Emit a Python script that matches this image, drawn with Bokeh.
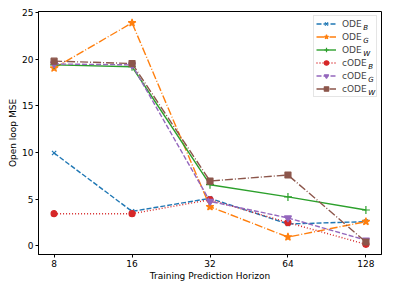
from bokeh.plotting import figure
from bokeh.models import Range1d, FixedTicker, Legend, LegendItem, Label
from bokeh.embed import file_html
from bokeh.resources import INLINE

horizons = [8, 16, 32, 64, 128]
tick_labels = ["8", "16", "32", "64", "128"]
ode_b = [9.95, 3.7, 5.1, 2.35, 2.6]
ode_g = [19.05, 23.9, 4.2, 0.95, 2.6]
ode_w = [19.4, 19.2, 6.56, 5.25, 3.85]
code_b = [3.45, 3.45, 4.95, 2.5, 0.17]
code_g = [19.5, 19.4, 4.77, 3.0, 0.62]
code_w = [19.8, 19.55, 6.95, 7.6, 0.42]

series = [
    ("ODE", "B", ode_b, "#1f77b4", "5 2", "x", 6),
    ("ODE", "G", ode_g, "#ff7f0e", "8 2 1 2", "star", 8),
    ("ODE", "W", ode_w, "#2ca02c", "solid", "cross", 8),
    ("cODE", "B", code_b, "#d62728", "1 2", "circle", 6),
    ("cODE", "G", code_g, "#9467bd", "5 2", "inverted_triangle", 7),
    ("cODE", "W", code_w, "#8c564b", "8 2 1 2", "square", 6),
]

FONT = "DejaVu Sans"
FW, FH = 343, 243

p = figure(frame_width=FW, frame_height=FH, output_backend="svg", toolbar_location=None,
           x_axis_type="log",
           x_range=Range1d(8 / 2 ** 0.2, 128 * 2 ** 0.2),
           y_range=Range1d(-0.92, 25.12),
           min_border_left=38, min_border_right=2, min_border_top=11, min_border_bottom=29)
p.grid.visible = False
p.outline_line_color = "black"
p.outline_line_width = 1
p.background_fill_color = "white"

p.xaxis.ticker = FixedTicker(ticks=horizons)
p.xaxis.major_label_overrides = {h: t for h, t in zip(horizons, tick_labels)}
p.yaxis.ticker = FixedTicker(ticks=[0, 5, 10, 15, 20, 25])
for ax in (p.xaxis, p.yaxis):
    ax.major_label_text_font = FONT
    ax.major_label_text_font_size = "9px"
    ax.major_label_text_color = "black"
    ax.major_label_text_line_height = 1.0
    ax.axis_label_text_font = FONT
    ax.axis_label_text_font_size = "9px"
    ax.axis_label_text_font_style = "normal"
    ax.axis_label_text_color = "black"
    ax.axis_label_text_line_height = 1.0
    ax.major_tick_out = 3
    ax.major_tick_in = 0
    ax.minor_tick_out = 0
    ax.minor_tick_in = 0
    ax.axis_line_color = "black"
    ax.major_tick_line_color = "black"
    ax.major_label_standoff = 2
p.xaxis.axis_label = "Training Prediction Horizon"
p.yaxis.axis_label = "Open loop MSE"
p.xaxis.axis_label_standoff = 1
p.yaxis.axis_label_standoff = 1

items = []
for name, sub, vals, color, dash, marker, size in series:
    lr = p.line(horizons, vals, line_color=color, line_width=1.4, line_dash=dash)
    sr = p.scatter(horizons, vals, marker=marker, size=size, fill_color=color,
                   line_color=color, line_width=1.2)
    items.append(LegendItem(label=name, renderers=[lr, sr]))

legend = Legend(items=items, location="top_right", margin=4, padding=2,
                glyph_width=20, glyph_height=11, label_height=11, label_width=32,
                label_standoff=6, spacing=2,
                label_text_font=FONT, label_text_font_size="9px",
                border_line_color="#cccccc", border_line_width=1,
                background_fill_alpha=0.0)
p.add_layout(legend)

# subscripts of the legend labels (frame-relative screen units)
sub_x = {"ODE": 324.7, "cODE": 329.7}
for i, (name, sub, *_rest) in enumerate(series):
    p.add_layout(Label(x=sub_x[name], y=FH - 20 - 13 * i, x_units="screen", y_units="screen",
                       text=sub, text_font=FONT, text_font_size="7px",
                       text_font_style="italic", text_color="black", level="overlay"))

open("out.html", "w").write(file_html(p, INLINE))
